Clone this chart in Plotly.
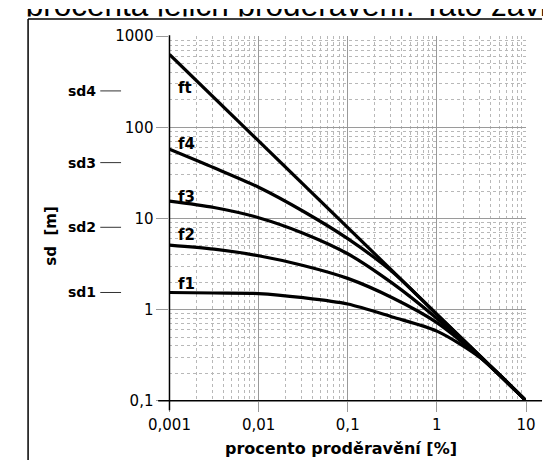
import math
import plotly.graph_objects as go

W, H = 553, 470

# ---- data ----
x_pts = [0.001, 0.00316, 0.01, 0.0316, 0.1, 0.316, 1, 3.16, 10]
f4 = [57.5, 36, 22, 12, 6.0, 2.6, 0.88, 0.30, 0.1]
f3 = [15.5, 13.2, 10.2, 6.9, 4.1, 1.95, 0.80, 0.295, 0.1]
f2 = [5.1, 4.6, 3.9, 3.05, 2.2, 1.35, 0.72, 0.29, 0.1]
f1 = [1.54, 1.52, 1.5, 1.35, 1.15, 0.83, 0.58, 0.29, 0.1]
ft_x = [0.001, 10]
ft = [630, 0.1]

curve_names = ["ft", "f4", "f3", "f2", "f1"]
sd_names = ["sd1", "sd2", "sd3", "sd4"]
sd_levels = [1.54, 8.0, 41, 251]

x_tickvals = [0.001, 0.01, 0.1, 1, 10]
x_ticktext = ["0,001", "0,01", "0,1", "1", "10"]
y_tickvals = [0.1, 1, 10, 100, 1000]
y_ticktext = ["0,1", "1", "10", "100", "1000"]

top_text = "procenta jejich proděravění. Tato závis"

PX_L, PX_R, PY_T, PY_B = 157.3, 535.0, 28.3, 407.3


def px(xp):
    return xp / W


def py(yp):
    return 1 - yp / H


fig = go.Figure()

for name, ys, xs in [("ft", ft, ft_x), ("f4", f4, x_pts), ("f3", f3, x_pts),
                     ("f2", f2, x_pts), ("f1", f1, x_pts)]:
    fig.add_trace(go.Scatter(x=xs, y=ys, mode="lines", name=name,
                             line=dict(color="black", width=3.2, shape="spline", smoothing=0.8),
                             showlegend=False, hoverinfo="skip"))

# cropped heading line at the very top (only its lower part is visible)
fig.add_trace(go.Scatter(x=[5], y=[-1.0], mode="text", text=[top_text],
                         textposition="middle right", cliponaxis=True,
                         textfont=dict(family="Liberation Sans", size=31.5, color="black"),
                         xaxis="x2", yaxis="y2", showlegend=False, hoverinfo="skip"))

grid_major = "#9a9a9a"
grid_minor = "#b8b8b8"

fig.update_layout(
    width=W, height=H,
    margin=dict(l=0, r=0, t=0, b=0),
    paper_bgcolor="white", plot_bgcolor="white",
    xaxis=dict(type="log", range=[-3, 1], domain=[px(PX_L), px(PX_R)],
               tickvals=x_tickvals, ticktext=x_ticktext,
               ticks="outside", ticklen=10, tickcolor=grid_major,
               showgrid=True, gridcolor=grid_major, gridwidth=1,
               showline=False, zeroline=False,
               tickfont=dict(family="DejaVu Sans", size=15, color="black"),
               minor=dict(dtick="D1", showgrid=True, gridcolor=grid_minor,
                          griddash="dot", gridwidth=1, ticks=""),
               anchor="y"),
    yaxis=dict(type="log", range=[-1, 3], domain=[py(PY_B), py(PY_T)],
               tickvals=y_tickvals, ticktext=y_ticktext,
               ticks="outside", ticklen=12, tickcolor=grid_major,
               showgrid=True, gridcolor=grid_major, gridwidth=1,
               showline=False, zeroline=False,
               tickfont=dict(family="DejaVu Sans", size=15, color="black"),
               minor=dict(dtick="D1", showgrid=True, gridcolor=grid_minor,
                          griddash="dot", gridwidth=1, ticks=""),
               anchor="x"),
    xaxis2=dict(range=[0, W], domain=[0, 1], visible=False, anchor="y2", fixedrange=True),
    yaxis2=dict(range=[7.8, 0], domain=[py(7.8), 1], visible=False, anchor="x2", fixedrange=True),
)

shapes = []
shapes.append(dict(type="line", xref="paper", yref="paper",
                   x0=px(PX_L - 12), x1=px(W - 1), y0=py(PY_B), y1=py(PY_B),
                   line=dict(color="black", width=1.5), layer="above"))
shapes.append(dict(type="line", xref="paper", yref="paper",
                   x0=px(PX_L), x1=px(PX_L), y0=py(PY_T - 1), y1=py(PY_B + 10),
                   line=dict(color="black", width=1.5), layer="above"))
shapes.append(dict(type="line", xref="paper", yref="paper",
                   x0=px(7.5), x1=px(7.5), y0=py(10.5), y1=py(H - 1),
                   line=dict(color="black", width=1.5)))
shapes.append(dict(type="line", xref="paper", yref="paper",
                   x0=px(7.5), x1=px(W - 1), y0=py(10.5), y1=py(10.5),
                   line=dict(color="black", width=1.5)))

annotations = []
for name, lev in zip(sd_names, sd_levels):
    annotations.append(dict(x=px(82), y=math.log10(lev), xref="paper", yref="y",
                            text="<b>%s</b>" % name, showarrow=False,
                            xanchor="right", yanchor="middle",
                            font=dict(family="DejaVu Sans", size=14, color="black")))
    shapes.append(dict(type="line", xref="paper", yref="y",
                       x0=px(84), x1=px(106), y0=lev, y1=lev,
                       line=dict(color="#333333", width=1)))

label_py = [82, 140, 195, 235, 286]
for name, yp in zip(curve_names, label_py):
    annotations.append(dict(x=px(164), y=py(yp), xref="paper", yref="paper",
                            text="<b>%s</b>" % name, showarrow=False,
                            xanchor="left", yanchor="middle",
                            font=dict(family="DejaVu Sans", size=15, color="black")))

annotations.append(dict(x=px(339), y=py(457), xref="paper", yref="paper",
                        text="<b>procento proděravění [%]</b>", showarrow=False,
                        xanchor="center", yanchor="middle",
                        font=dict(family="DejaVu Sans", size=16, color="black")))
annotations.append(dict(x=px(31.5), y=py(236), xref="paper", yref="paper",
                        text="<b>sd  [m]</b>", showarrow=False, textangle=-90,
                        xanchor="center", yanchor="middle",
                        font=dict(family="DejaVu Sans", size=15, color="black")))

fig.update_layout(shapes=shapes, annotations=annotations)

fig.write_html("out.html")
